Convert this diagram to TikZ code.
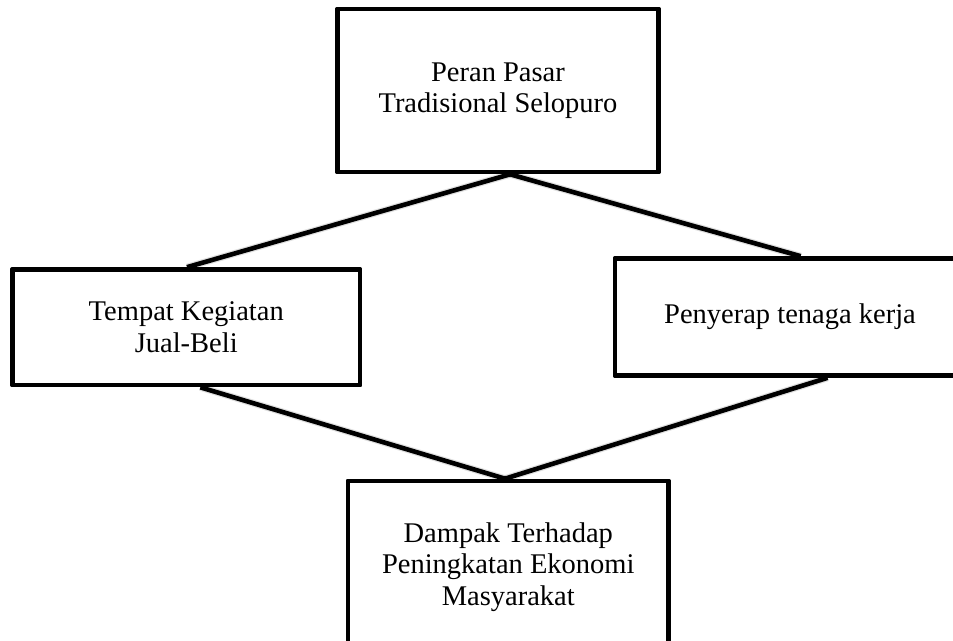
\documentclass[tikz,border=0pt]{standalone}
\usepackage{fontspec}
\setmainfont{Liberation Serif}
\usetikzlibrary{calc}
\begin{document}
\begin{tikzpicture}[x=1pt,y=-1pt,
  box/.style={draw=black,fill=white,line width=4.6pt,line join=round,
    align=center,inner sep=0pt,font=\fontsize{28.5}{31.5}\selectfont},
  link/.style={draw=black,line width=4.6pt},
  linkshadow/.style={draw=black,opacity=0.12,line width=7pt}]
\useasboundingbox (0,0) rectangle (953,640);
\fill[white] (0,0) rectangle (953,640);
% nodes (placed first so anchors exist; redrawn on top later)
\path node[box,minimum width=321pt,minimum height=163pt] (top) at (498,90.5) {Peran Pasar\\Tradisional Selopuro};
\path node[box,minimum width=347.5pt,minimum height=115.5pt] (left) at (186.25,327.25) {Tempat Kegiatan\\Jual-Beli};
\path node[box,minimum width=350pt,minimum height=117pt] (right) at (790,317) {Penyerap tenaga kerja};
\path node[box,minimum width=320.5pt,minimum height=172pt] (bottom) at (508.25,567) {Dampak Terhadap\\Peningkatan Ekonomi\\Masyarakat};
% anchor points on the borders
\coordinate (tA) at ($(top.south west)!0.537!(top.south east)$);
\coordinate (lT) at ($(left.north west)!0.502!(left.north east)$);
\coordinate (rT) at ($(right.north west)!0.53!(right.north east)$);
\coordinate (lB) at ($(left.south west)!0.54!(left.south east)$);
\coordinate (rB) at ($(right.south west)!0.606!(right.south east)$);
\coordinate (bA) at ($(bottom.north west)!0.49!(bottom.north east)$);
% shadows of connectors
\begin{scope}[shift={(1.5,4)}]
\draw[linkshadow] (tA) -- (lT);
\draw[linkshadow] (tA) -- (rT);
\draw[linkshadow] (lB) -- (bA);
\draw[linkshadow] (rB) -- (bA);
\end{scope}
% connectors
\draw[link] (tA) -- (lT);
\draw[link] (tA) -- (rT);
\draw[link] (lB) -- (bA);
\draw[link] (rB) -- (bA);
% boxes on top
\path node[box,minimum width=321pt,minimum height=163pt] at (top) {Peran Pasar\\Tradisional Selopuro};
\path node[box,minimum width=347.5pt,minimum height=115.5pt] at (left) {Tempat Kegiatan\\Jual-Beli};
\path node[box,minimum width=350pt,minimum height=117pt] at (right) {Penyerap tenaga kerja};
\path node[box,minimum width=320.5pt,minimum height=172pt] at (bottom) {Dampak Terhadap\\Peningkatan Ekonomi\\Masyarakat};
\end{tikzpicture}
\end{document}
